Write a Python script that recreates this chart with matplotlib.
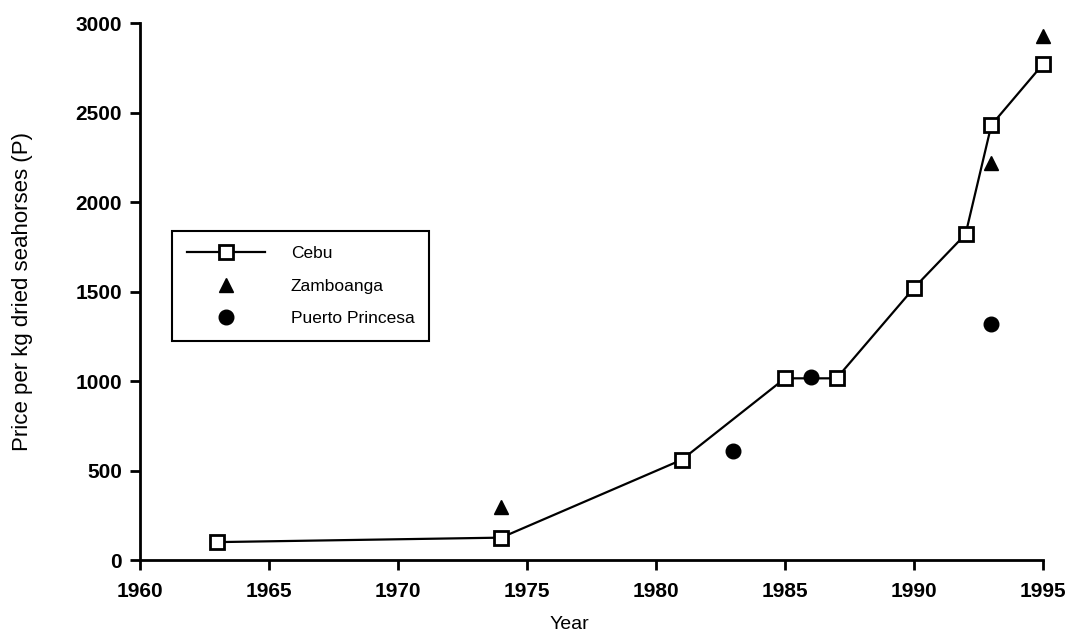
import matplotlib.pyplot as plt

plt.rcParams['font.family'] = ['Liberation Sans', 'DejaVu Sans']

# Cebu price series
cebu_years = [1963, 1974, 1981, 1985, 1987, 1990, 1992, 1993, 1995]
cebu_price = [100, 125, 560, 1015, 1015, 1520, 1820, 2430, 2770]

# Zamboanga
zamb_years = [1974, 1993, 1995]
zamb_price = [295, 2220, 2925]

# Puerto Princesa
pp_years = [1983, 1986, 1993]
pp_price = [610, 1020, 1320]

x_ticks = [1960, 1965, 1970, 1975, 1980, 1985, 1990, 1995]
y_ticks = [0, 500, 1000, 1500, 2000, 2500, 3000]

fig = plt.figure(figsize=(10.73, 6.34), dpi=100)
ax = fig.add_axes([0.1305, 0.1167, 0.8415, 0.847])

ax.plot(cebu_years, cebu_price, color='k', lw=1.6, marker='s', ms=10,
        mfc='white', mec='k', mew=2, label='Cebu', clip_on=False, zorder=3)
ax.plot(zamb_years, zamb_price, ls='none', marker='^', ms=10.5,
        color='k', label='Zamboanga', clip_on=False, zorder=3)
ax.plot(pp_years, pp_price, ls='none', marker='o', ms=10.5,
        color='k', label='Puerto Princesa', clip_on=False, zorder=3)

ax.set_xlim(1960, 1995)
ax.set_ylim(0, 3000)
ax.set_xticks(x_ticks)
ax.set_yticks(y_ticks)

for side in ['top', 'right']:
    ax.spines[side].set_visible(False)
for side in ['left', 'bottom']:
    ax.spines[side].set_linewidth(2)

ax.tick_params(axis='both', direction='out', length=7, width=2, labelsize=15)
ax.tick_params(axis='x', pad=9)
ax.tick_params(axis='y', pad=6)
for lab in ax.get_xticklabels() + ax.get_yticklabels():
    lab.set_fontweight('bold')

ax.set_xlabel('Year', fontsize=14)
ax.xaxis.set_label_coords(0.476, -0.105)
ax.set_ylabel('Price per kg dried seahorses (P)', fontsize=16)
ax.yaxis.set_label_coords(-0.118, 0.5)

leg = ax.legend(loc='upper left', bbox_to_anchor=(0.0354, 0.612),
                borderaxespad=0, fontsize=12.5, numpoints=1, handlelength=4.5,
                handletextpad=1.5, labelspacing=1.0, borderpad=0.85,
                fancybox=False, edgecolor='k', framealpha=1)
leg.get_frame().set_linewidth(1.5)

fig.savefig('out.png', dpi=100)
